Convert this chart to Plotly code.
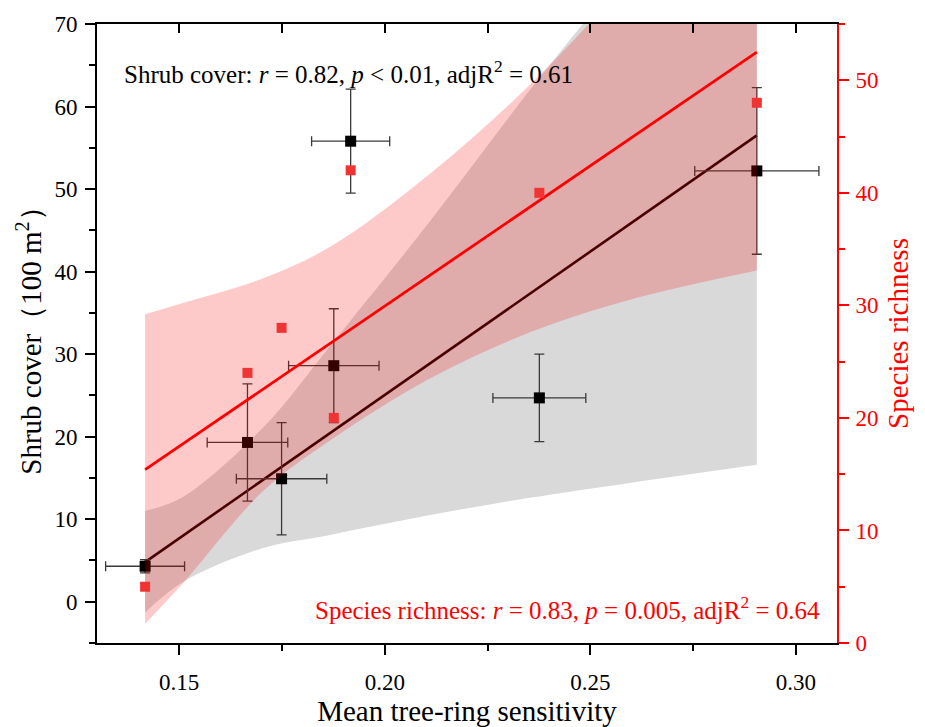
import plotly.graph_objects as go

# ---- data ----
sens = [0.1417, 0.1666, 0.1749, 0.1876, 0.1917, 0.2376, 0.2905]
sens_err = [0.0096, 0.0098, 0.0110, 0.0110, 0.0095, 0.0113, 0.0151]
shrub = [4.3, 19.3, 14.9, 28.6, 55.8, 24.7, 52.2]
shrub_err = [0.8, 7.1, 6.8, 6.9, 6.3, 5.3, 10.1]
richness = [5, 24, 28, 20, 42, 40, 48]

fit_x = [0.1417, 0.2905]
shrub_fit = [4.8, 56.5]
rich_fit = [15.4, 52.5]

band_x = [0.1417, 0.1509, 0.1704, 0.1867, 0.2110, 0.2353, 0.2596, 0.2905]
shrub_lo = [-1.3, 2.4, 6.5, 8.1, 10.5, 12.6, 14.4, 16.6]
shrub_hi = [11.0, 12.7, 21.1, 31.0, 46.1, 62.0, 77.0, 96.0]
rich_lo = [1.7, 5.3, 13.5, 18.0, 23.5, 27.6, 30.5, 33.1]
rich_hi = [29.2, 30.2, 32.4, 35.2, 41.7, 49.6, 59.0, 72.0]

FONT = "Liberation Serif, Times New Roman, serif"
RED = "#ff0000"

fig = go.Figure()

# gray confidence band (shrub cover)
fig.add_trace(go.Scatter(x=band_x, y=shrub_lo, mode="lines", line=dict(width=0, shape="spline"),
                         showlegend=False, hoverinfo="skip"))
fig.add_trace(go.Scatter(x=band_x, y=shrub_hi, mode="lines", line=dict(width=0, shape="spline"),
                         fill="tonexty", fillcolor="#d9d9d9", showlegend=False, hoverinfo="skip"))
# black fit line
fig.add_trace(go.Scatter(x=fit_x, y=shrub_fit, mode="lines", line=dict(color="#1a0000", width=2.6),
                         showlegend=False))
# shrub points with error bars
fig.add_trace(go.Scatter(x=sens, y=shrub, mode="markers",
                         marker=dict(symbol="square", size=11, color="#000000"),
                         error_x=dict(type="data", array=sens_err, color="#3a3a3a", thickness=1.3, width=5),
                         error_y=dict(type="data", array=shrub_err, color="#3a3a3a", thickness=1.3, width=5),
                         showlegend=False))

# red confidence band (species richness) on right axis
fig.add_trace(go.Scatter(x=band_x, y=rich_lo, mode="lines", line=dict(width=0, shape="spline"),
                         yaxis="y2", showlegend=False, hoverinfo="skip"))
fig.add_trace(go.Scatter(x=band_x, y=rich_hi, mode="lines", line=dict(width=0, shape="spline"),
                         fill="tonexty", fillcolor="rgba(250,0,0,0.21)", yaxis="y2",
                         showlegend=False, hoverinfo="skip"))
fig.add_trace(go.Scatter(x=fit_x, y=rich_fit, mode="lines", line=dict(color=RED, width=2.8),
                         yaxis="y2", showlegend=False))
fig.add_trace(go.Scatter(x=sens, y=richness, mode="markers",
                         marker=dict(symbol="square", size=10, color="#f03434"),
                         yaxis="y2", showlegend=False))

# dummy trace for the top tick axis
fig.add_trace(go.Scatter(x=[0.2], y=[None], xaxis="x3", yaxis="y", showlegend=False, hoverinfo="skip"))

fig.update_layout(
    width=925, height=727,
    margin=dict(l=97, r=88, t=20, b=78),
    paper_bgcolor="white", plot_bgcolor="white",
    font=dict(family=FONT, size=23, color="black"),
    xaxis=dict(range=[0.13, 0.31], tick0=0, dtick=0.05, tickformat=".2f",
               showline=True, linecolor="black", linewidth=2, mirror=True,
               ticks="outside", ticklen=10, tickwidth=1.5, tickcolor="black",
               minor=dict(dtick=0.025, tick0=0, ticks="outside", ticklen=6, tickwidth=1.5, tickcolor="black"),
               showgrid=False, zeroline=False, ticklabelstandoff=7,
               title=dict(text="Mean tree-ring sensitivity", font=dict(size=29), standoff=0),
               tickfont=dict(size=23)),
    xaxis3=dict(range=[0.13, 0.31], overlaying="x", side="top", anchor="y",
                tick0=0, dtick=0.025, ticks="inside", ticklen=9, tickwidth=1.5, tickcolor="black",
                showticklabels=False, showline=False, showgrid=False, zeroline=False),
    yaxis=dict(range=[-5, 70], tick0=0, dtick=10,
               showline=True, linecolor="black", linewidth=2,
               ticks="outside", ticklen=10, tickwidth=1.5, tickcolor="black",
               minor=dict(dtick=5, tick0=0, ticks="outside", ticklen=6, tickwidth=1.5, tickcolor="black"),
               showgrid=False, zeroline=False, ticklabelstandoff=3,
               title=dict(text="Shrub cover（100 m<sup>2</sup>）", font=dict(size=29), standoff=4),
               tickfont=dict(size=23)),
    yaxis2=dict(range=[0, 55], tick0=0, dtick=10, overlaying="y", side="right", anchor="x",
                showline=True, linecolor=RED, linewidth=2,
                ticks="outside", ticklen=10, tickwidth=1.5, tickcolor=RED,
                minor=dict(dtick=5, tick0=0, ticks="outside", ticklen=6, tickwidth=1.5, tickcolor=RED),
                showgrid=False, zeroline=False, ticklabelstandoff=2,
                title=dict(text="Species richness", font=dict(size=29, color=RED), standoff=10),
                tickfont=dict(size=23, color=RED)),
    annotations=[
        dict(text="Shrub cover: <i>r</i> = 0.82, <i>p</i> &lt; 0.01, adjR<sup>2</sup> = 0.61",
             xref="paper", yref="paper", x=0.034, y=0.922, xanchor="left", yanchor="middle",
             showarrow=False, font=dict(size=25, color="black")),
        dict(text="Species richness: <i>r</i> = 0.83, <i>p</i> = 0.005, adjR<sup>2</sup> = 0.64",
             xref="paper", yref="paper", x=0.98, y=0.056, xanchor="right", yanchor="middle",
             showarrow=False, font=dict(size=25, color=RED)),
    ],
)

fig.write_html("out.html")
